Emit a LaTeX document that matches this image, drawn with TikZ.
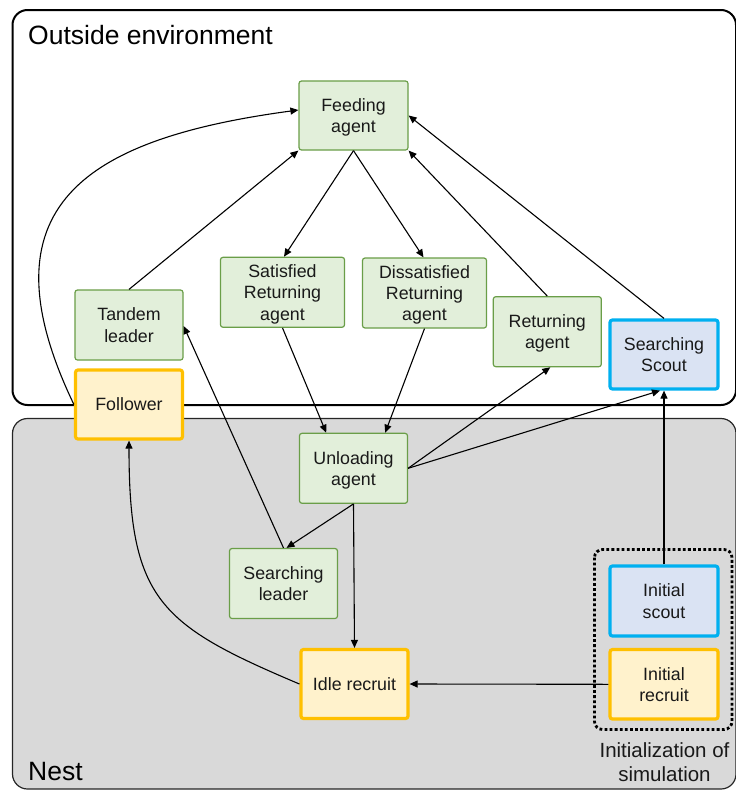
\documentclass[tikz,border=0pt]{standalone}
\usepackage{fontspec}
\setmainfont{Liberation Sans}
\usetikzlibrary{arrows.meta,calc}
\definecolor{gfill}{HTML}{E2EFDA}
\definecolor{gdraw}{HTML}{6A9E48}
\definecolor{yfill}{HTML}{FFF2CC}
\definecolor{ydraw}{HTML}{FFC000}
\definecolor{bfill}{HTML}{DAE3F3}
\definecolor{bdraw}{HTML}{00B0F0}
\definecolor{nestgray}{HTML}{D9D9D9}
\begin{document}
\begin{tikzpicture}[x=1pt,y=-1pt,
  box/.style={rectangle, rounded corners=2.5pt, inner sep=0pt, align=center,
    font=\fontsize{17.8}{21.4}\selectfont, text=black!90, text depth=-1pt},
  greenbox/.style={box, fill=gfill, draw=gdraw, line width=1.2pt},
  yellowbox/.style={box, fill=yfill, draw=ydraw, line width=3.2pt},
  bluebox/.style={box, fill=bfill, draw=bdraw, line width=3.2pt},
  conn/.style={-{Triangle[length=8pt,width=7pt]}, line width=1.1pt, black},
  region/.style={font=\fontsize{26.5}{32}\selectfont, anchor=base west, inner sep=0pt},
]
\useasboundingbox (0,0) rectangle (736,790);
% regions
\draw[line width=2pt, rounded corners=15pt, fill=white] (12.5,10) rectangle (736,405);
\draw[line width=1.2pt, draw=black!85, rounded corners=15pt, fill=nestgray] (12.5,418.5) rectangle (736,789);
\node[region] (outlbl) at (28,44) {Outside environment};
\node[region] (nestlbl) at (28,780) {Nest};
\draw[line width=2.8pt, dash pattern=on 2.8pt off 2.3pt, rounded corners=8pt] (594.5,549.5) rectangle (732,729.5);
\node[align=center, inner sep=0pt, font=\fontsize{20.5}{24}\selectfont, text=black!90] (initlbl) at (664.5,762.5) {Initialization of\\simulation};

% nodes
\node[greenbox, minimum width=109pt, minimum height=69pt] (feed) at (353.5,115.5) {Feeding\\agent};
\node[greenbox, minimum width=108pt, minimum height=70pt] (tandem) at (129,325) {Tandem\\leader};
\node[yellowbox, minimum width=107pt, minimum height=69pt] (follower) at (129,404.5) {Follower};
\node[greenbox, minimum width=124pt, minimum height=70pt] (sat) at (282.5,292.3) {Satisfied\\Returning\\agent};
\node[greenbox, minimum width=124pt, minimum height=70pt] (dis) at (424.5,293) {Dissatisfied\\Returning\\agent};
\node[greenbox, minimum width=108pt, minimum height=70pt] (ret) at (547.3,331.7) {Returning\\agent};
\node[bluebox, minimum width=108pt, minimum height=69pt] (scout) at (664,354.5) {Searching\\Scout};
\node[greenbox, minimum width=108pt, minimum height=70pt] (unload) at (353.5,468.3) {Unloading\\agent};
\node[greenbox, minimum width=108pt, minimum height=70pt] (sleader) at (283.5,583.5) {Searching\\leader};
\node[yellowbox, minimum width=107pt, minimum height=69pt] (idle) at (354.5,684) {Idle recruit};
\node[bluebox, minimum width=108pt, minimum height=70pt] (iscout) at (664,601) {Initial\\scout};
\node[yellowbox, minimum width=108pt, minimum height=69.5pt] (irecruit) at (664,684.3) {Initial\\recruit};

% connectors
\draw[conn] (follower.west) .. controls (-21.5,205.8) and (86,138.6) .. ([yshift=5.5pt]feed.west);
\draw[conn] (tandem.north) -- (feed.south west);
\draw[conn] (feed.south) -- ([xshift=1.5pt]sat.north);
\draw[conn] (feed.south) -- ([xshift=-1pt]dis.north);
\draw[conn] (ret.north) -- (feed.south east);
\draw[conn] (scout.north) -- (feed.east);
\draw[conn] (sat.south) -- ($(unload.north west)!0.25!(unload.north east)$);
\draw[conn] (dis.south) -- ($(unload.north west)!0.79!(unload.north east)$);
\draw[conn] (unload.east) -- ([xshift=3pt]ret.south);
\draw[conn] (unload.east) -- ([xshift=-4pt]scout.south);
\draw[conn] (unload.south) -- ([xshift=3pt]sleader.north);
\draw[conn] (sleader.north) -- ([yshift=-1pt]tandem.east);
\draw[conn] (unload.south) -- (idle.north);
\draw[conn] (irecruit.west) -- (idle.east);
\draw[conn] (iscout.north) -- (scout.south);
\draw[conn] (idle.west) .. controls (160,625) and (129,600) .. (follower.south);
\end{tikzpicture}
\end{document}
